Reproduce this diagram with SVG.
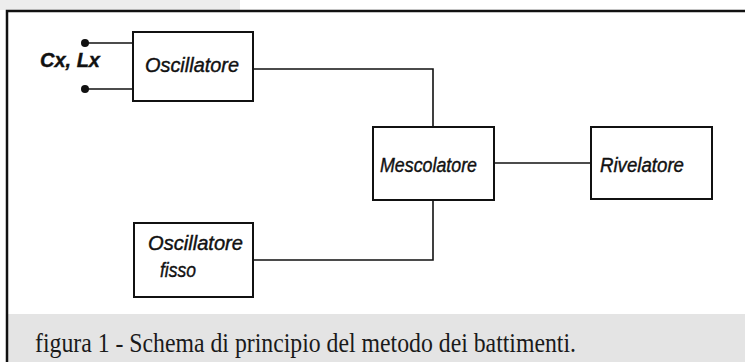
<svg xmlns="http://www.w3.org/2000/svg" width="745" height="362" viewBox="0 0 745 362">
  <defs>
    <style>
      .box { fill: #ffffff; stroke: #111111; stroke-width: 2; }
      .wire { fill: none; stroke: #111111; stroke-width: 1.6; }
      .hand { font-family: "Liberation Sans", "DejaVu Sans", sans-serif; font-style: italic; font-size: 20px; fill: #111111; stroke: #111111; stroke-width: 0.4; }
      .cap { font-family: "Liberation Serif", "Times New Roman", serif; font-size: 27px; fill: #1a1a1a; }
      .dot { fill: #111111; }
    </style>
  </defs>
  <rect x="0" y="0" width="745" height="362" fill="#ffffff"/>
  <rect x="0" y="0" width="240" height="10" fill="#ededed"/>
  <rect x="8" y="314" width="737" height="48" fill="#e4e4e4"/>
  <!-- frame -->
  <path d="M7,362 V11 H745" fill="none" stroke="#111111" stroke-width="2.5"/>

  <g id="connectors">
    <line class="wire" x1="85" y1="43" x2="133" y2="43"/>
    <line class="wire" x1="85" y1="89" x2="133" y2="89"/>
    <circle class="dot" cx="85" cy="43" r="4"/>
    <circle class="dot" cx="85" cy="89" r="4"/>
    <polyline class="wire" points="253,69 433,69 433,127"/>
    <polyline class="wire" points="253,260 433,260 433,200"/>
    <line class="wire" x1="494" y1="163" x2="591" y2="163"/>
  </g>

  <g id="input-label">
    <text class="hand" x="40" y="67" font-size="18" font-weight="bold" textLength="60" lengthAdjust="spacingAndGlyphs">Cx, Lx</text>
  </g>

  <g id="oscillatore">
    <rect class="box" x="133" y="32" width="120" height="69"/>
    <text class="hand" x="145" y="72" textLength="94" lengthAdjust="spacingAndGlyphs">Oscillatore</text>
  </g>

  <g id="mescolatore">
    <rect class="box" x="373" y="127" width="121" height="73"/>
    <text class="hand" x="380" y="172" textLength="97" lengthAdjust="spacingAndGlyphs">Mescolatore</text>
  </g>

  <g id="rivelatore">
    <rect class="box" x="591" y="127" width="121" height="72"/>
    <text class="hand" x="600" y="172" textLength="84" lengthAdjust="spacingAndGlyphs">Rivelatore</text>
  </g>

  <g id="oscillatore-fisso">
    <rect class="box" x="134" y="223" width="119" height="74"/>
    <text class="hand" x="148" y="250" textLength="95" lengthAdjust="spacingAndGlyphs">Oscillatore</text>
    <text class="hand" x="160" y="277" textLength="36" lengthAdjust="spacingAndGlyphs">fisso</text>
  </g>

  <text class="cap" x="35" y="352" textLength="541" lengthAdjust="spacingAndGlyphs">figura 1 - Schema di principio del metodo dei battimenti.</text>
</svg>
